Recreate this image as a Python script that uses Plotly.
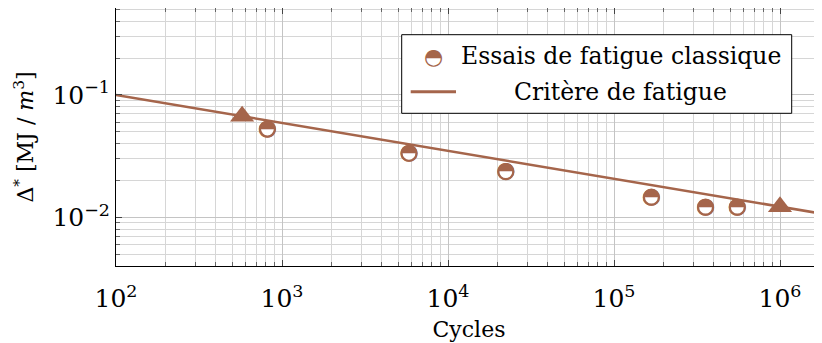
import plotly.graph_objects as go

# ---- data ----
test_cycles = [817, 5820, 22300, 168000, 356000, 553000]
test_delta = [0.0527, 0.0334, 0.0236, 0.0146, 0.0121, 0.0121]

criterion_cycles = [100, 1.79e6]
criterion_delta = [0.1, 0.0107]

anchor_cycles = [575, 1e6]
anchor_delta = [0.0671, 0.0122]

BROWN = "#a5654b"
SERIF = "DejaVu Serif"

# page body has an 8px margin, so the figure is sized/offset to compensate
OFF = 8
W, H = 822 - OFF, 343 - OFF
L, R, T, B = 108, 0, 0, 77
pw, ph = W - L - R, H - T - B   # 706 x 258 -> page area x 116..822, y 8..266


def px(x):
    return (x - (L + OFF)) / pw


def py(y):
    return ((H - B + OFF) - y) / ph


fig = go.Figure()

fig.add_trace(go.Scatter(
    x=criterion_cycles, y=criterion_delta, mode="lines",
    line=dict(color=BROWN, width=2.5), showlegend=False, hoverinfo="skip"))

fig.add_trace(go.Scatter(
    x=anchor_cycles, y=anchor_delta, mode="markers",
    marker=dict(symbol="triangle-up", size=21, color=BROWN),
    showlegend=False))

# white disc with brown outline under the half-filled glyph
fig.add_trace(go.Scatter(
    x=test_cycles, y=test_delta, mode="markers",
    marker=dict(symbol="circle", size=15, color="white", line=dict(color=BROWN, width=2.2)),
    showlegend=False, hoverinfo="skip"))

fig.add_trace(go.Scatter(
    x=test_cycles, y=test_delta, mode="text",
    text=["\u25D3"] * len(test_cycles), textposition="middle center",
    textfont=dict(family="DejaVu Sans", size=22, color=BROWN),
    name="Essais de fatigue classique", showlegend=False))

grid_major = "#c4c4c4"
grid_minor = "#d6d6d6"

axis_common = dict(
    type="log", showline=True, linecolor="black", linewidth=1, mirror="allticks",
    ticks="inside", ticklen=6, tickcolor="#444", tickwidth=1,
    showgrid=True, gridcolor=grid_major, gridwidth=1,
    exponentformat="power", dtick=1, zeroline=False, automargin=False,
    tickfont=dict(family=SERIF, size=20, color="black"),
    minor=dict(ticks="inside", ticklen=4, tickcolor="#666", showgrid=True,
               gridcolor=grid_minor, gridwidth=1, dtick="D1"),
)

fig.update_xaxes(**axis_common, range=[2, 6.253], ticklabelstandoff=11,
                 title=dict(text="Cycles", font=dict(family=SERIF, size=22, color="black"),
                            standoff=9))
fig.update_yaxes(**axis_common, range=[-2.398, -0.289], ticklabelstandoff=1,
                 title=dict(text="\u0394<sup>*</sup> [MJ / <i>m</i><sup>3</sup>]",
                            font=dict(family=SERIF, size=22, color="black"), standoff=12))

# ---- custom legend (centered cells like the original) ----
fig.add_shape(type="rect", xref="paper", yref="paper",
              x0=px(401.7), x1=px(791.7), y0=py(113.3), y1=py(34.7),
              line=dict(color="black", width=1), fillcolor="white", layer="above")
fig.add_shape(type="line", xref="paper", yref="paper",
              x0=px(410.7), x1=px(456), y0=py(91.7), y1=py(91.7),
              line=dict(color=BROWN, width=3), layer="above")
fig.add_annotation(xref="paper", yref="paper", x=px(433.3), y=py(56),
                   text="\u25D3", showarrow=False, xanchor="center", yanchor="middle",
                   font=dict(family="DejaVu Sans", size=22, color=BROWN))
fig.add_annotation(xref="paper", yref="paper", x=px(620.7), y=py(56),
                   text="Essais de fatigue classique", showarrow=False,
                   xanchor="center", yanchor="middle",
                   font=dict(family=SERIF, size=23.5, color="black"))
fig.add_annotation(xref="paper", yref="paper", x=px(620.7), y=py(91.5),
                   text="Crit\u00e8re de fatigue", showarrow=False,
                   xanchor="center", yanchor="middle",
                   font=dict(family=SERIF, size=23.5, color="black"))

fig.update_layout(
    width=W, height=H, margin=dict(l=L, r=R, t=T, b=B),
    plot_bgcolor="white", paper_bgcolor="white", showlegend=False,
)

fig.write_html("out.html")
